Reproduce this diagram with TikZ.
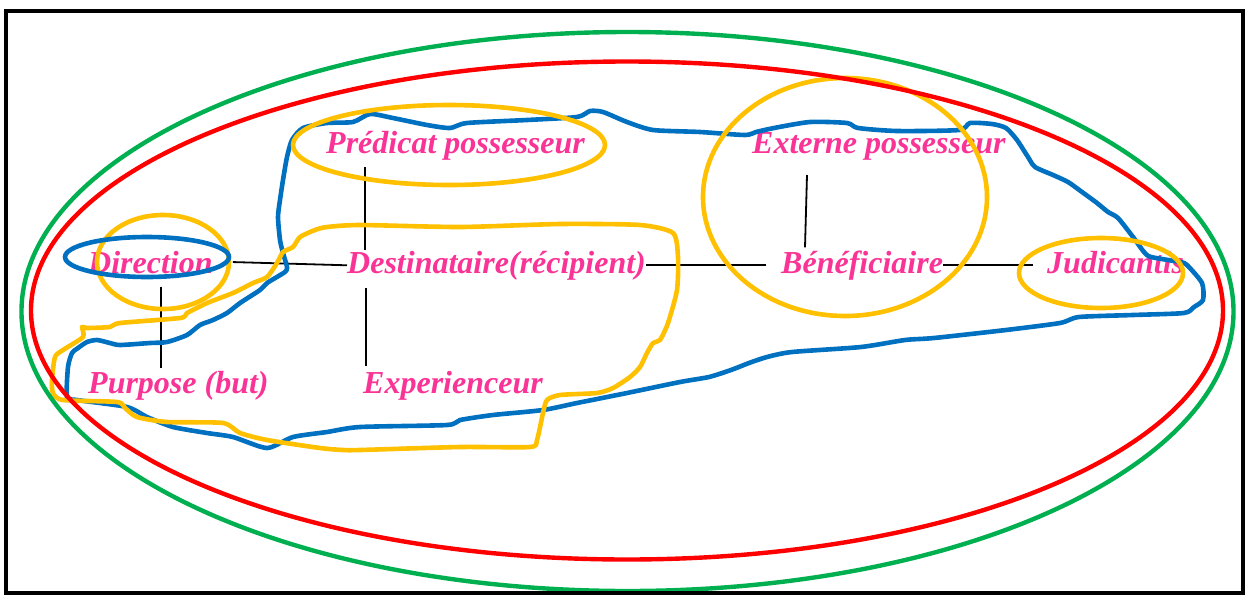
\documentclass[tikz,border=0pt]{standalone}
\usepackage{fontspec}
\setmainfont{Liberation Serif}
\definecolor{txtpink}{RGB}{250,52,150}
\definecolor{myyellow}{RGB}{255,192,0}
\definecolor{myblue}{RGB}{0,112,192}
\definecolor{myred}{RGB}{255,0,0}
\definecolor{mygreen}{RGB}{0,176,80}
\tikzset{
  lbl/.style={anchor=base west, inner sep=0pt, text=txtpink,
    font=\fontsize{32}{38}\selectfont\bfseries\itshape},
  conn/.style={draw=black, line width=1.8pt},
  ylw/.style={draw=myyellow, line width=4.6pt, line join=round},
  blu/.style={draw=myblue, line width=4.6pt, line join=round},
}
\begin{document}
\begin{tikzpicture}[x=1pt,y=-1pt]
\useasboundingbox (0,0) rectangle (1248,595);
\fill[white] (0,0) rectangle (1248,595);
% texts
\node[lbl] (pred) at (326,153) {Prédicat possesseur};
\node[lbl] (ext)  at (752,153) {Externe possesseur};
\node[lbl] (dir)  at (88,273)  {Direction};
\node[lbl] (dest) at (347,273) {Destinataire(récipient)};
\node[lbl] (ben)  at (781,273) {Bénéficiaire};
\node[lbl] (jud)  at (1047,273) {Judicantis};
\node[lbl] (purp) at (88,393)  {Purpose (but)};
\node[lbl] (exp)  at (363,393) {Experienceur};
% connectors
\draw[conn] ([xshift=20pt]dir.east) -- (dest.west);
\draw[conn] (dest.east) -- ([xshift=-15pt]dest.east -| ben.west);
\draw[conn] (ben.east) -- ([xshift=-14pt]ben.east -| jud.west);
\draw[conn] ([shift={(39pt,-7pt)}]pred.south west) -- ([shift={(18pt,1pt)}]dest.north west);
\draw[conn] ([shift={(19pt,-8pt)}]dest.south west) -- ([shift={(3pt,5pt)}]exp.north west);
\draw[conn] ([shift={(73pt,-13pt)}]dir.south west) -- ([shift={(73pt,3pt)}]purp.north west);
\draw[conn] ([shift={(55pt,-15pt)}]ext.south west) -- ([shift={(24pt,3pt)}]ben.north west);
% blue blob
\draw[blu] plot[smooth cycle, tension=0.4] coordinates {
(292,140) (303,128) (327,123) (353,122) (370,114) (393,118) (427,125) (450,128) (467,123) (527,120) (577,117) (590,111) (603,112) (627,122) (653,130) (700,132) (745,135) (756,132) (774,128) (810,122) (847,123) (858,128) (897,131) (959,130) (970,123) (992,124) (1006,128) (1017,140) (1028,157) (1035,167) (1053,175) (1068,182) (1082,192) (1097,203) (1108,212) (1118,218) (1133,237) (1144,252) (1151,257) (1180,262) (1187,265) (1202,283) (1203,300) (1194,307) (1184,313) (1133,315) (1079,317) (1060,323) (1006,330) (934,338) (905,340) (861,347) (792,352) (767,357) (749,363) (731,370) (709,377) (680,382) (627,393) (577,403) (543,410) (493,415) (460,420) (447,425) (360,427) (327,432) (293,437) (267,448) (233,437) (207,433) (173,427) (147,417) (127,407) (77,400) (67,397) (68,367) (72,353) (78,348) (87,342) (97,340) (110,343) (120,345) (150,343) (167,342) (187,335) (200,325) (213,320) (227,313) (240,303) (260,290) (267,283) (285,272) (287,267) (283,253) (280,240) (278,217) (280,200) (283,180) (287,157)};
% yellow blob
\draw[ylw] plot[smooth cycle, tension=0.4] coordinates {
(315,230) (327,227) (360,225) (460,227) (560,224) (640,225) (673,233) (678,257) (677,290) (668,323) (660,340) (653,343) (647,353) (640,367) (630,377) (613,388) (597,393) (560,395) (547,400) (543,413) (537,440) (530,447) (460,447) (360,450) (343,450) (320,448) (267,440) (240,433) (223,423) (167,422) (137,417) (125,408) (117,402) (63,400) (53,393) (52,380) (55,357) (63,350) (83,337) (82,327) (87,328) (110,327) (120,323) (180,318) (187,313) (207,303) (233,293) (253,283) (267,277) (277,263) (283,252) (293,247) (300,237)};
% yellow ellipses
\draw[ylw] (449,145) ellipse [x radius=156, y radius=40];
\draw[ylw] (163,262) ellipse [x radius=66, y radius=47];
\draw[ylw] (845,197) ellipse [x radius=142, y radius=119];
\draw[ylw] (1101,273) ellipse [x radius=82, y radius=35];
% blue ellipse
\draw[blu] (147,257) ellipse [x radius=82, y radius=20];
% outer ellipses
\draw[myred, line width=4.4pt] (627,310.5) ellipse [x radius=596, y radius=249];
\draw[mygreen, line width=4.4pt] (627.5,311.5) ellipse [x radius=606, y radius=279.5];
% frame
\draw[black, line width=4pt] (6,11) rectangle (1243,593);
\end{tikzpicture}
\end{document}
